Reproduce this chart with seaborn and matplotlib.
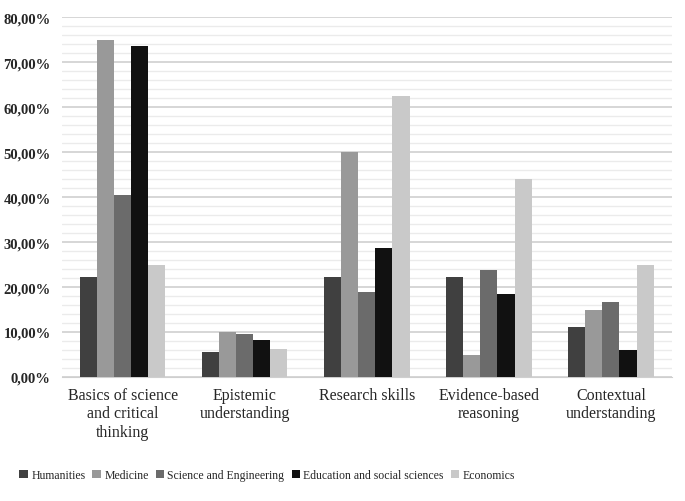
import pandas as pd
import seaborn as sns
import matplotlib.pyplot as plt
from matplotlib.ticker import MultipleLocator, FuncFormatter

categories = ['Basics of science\nand critical\nthinking', 'Epistemic\nunderstanding',
              'Research skills', 'Evidence-based\nreasoning', 'Contextual\nunderstanding']
groups = ['Humanities', 'Medicine', 'Science and Engineering',
          'Education and social sciences', 'Economics']
humanities = [22.2, 5.6, 22.2, 22.2, 11.1]
medicine = [75.0, 10.0, 50.0, 5.0, 15.0]
science = [40.5, 9.5, 19.0, 23.8, 16.7]
education = [73.5, 8.2, 28.6, 18.4, 6.1]
economics = [25.0, 6.3, 62.5, 43.9, 25.0]
colors = ['#404040', '#999999', '#6b6b6b', '#111111', '#c9c9c9']

rows = []
for g, vals in zip(groups, [humanities, medicine, science, education, economics]):
    for c, v in zip(categories, vals):
        rows.append({'category': c, 'group': g, 'value': v / 100})
df = pd.DataFrame(rows)

sns.set_style('white')
plt.rcParams['font.family'] = ['Liberation Serif']

fig = plt.figure(figsize=(6.85, 5.02), dpi=100)
ax = fig.add_axes([0.09, 0.247, 0.891, 0.717])
sns.barplot(data=df, x='category', y='value', hue='group', hue_order=groups,
            palette=colors, width=0.7, saturation=1, linewidth=0, ax=ax, zorder=3)

ax.set_ylim(0, 0.8)
ax.yaxis.set_major_locator(MultipleLocator(0.1))
ax.yaxis.set_minor_locator(MultipleLocator(0.02))
ax.yaxis.set_major_formatter(FuncFormatter(lambda v, p: f'{v*100:.2f}%'.replace('.', ',')))
ax.grid(axis='y', which='major', color='#cfcfcf', lw=1.2, zorder=0)
ax.grid(axis='y', which='minor', color='#ebebeb', lw=1.0, zorder=0)
ax.set_axisbelow(True)
for s in ['top', 'right', 'left']:
    ax.spines[s].set_visible(False)
ax.spines['bottom'].set_color('#cfcfcf')
ax.tick_params(axis='y', which='both', length=0, labelsize=10.5, pad=8)
ax.tick_params(axis='x', length=0, labelsize=11.5, pad=7)
ax.set_xlabel('')
ax.set_ylabel('')
for lbl in ax.get_yticklabels():
    lbl.set_fontweight('bold')

ax.legend_.remove()
handles, labels = ax.get_legend_handles_labels()
fig.legend(handles, labels, loc='center', bbox_to_anchor=(0.39, 0.052), ncol=5,
           frameon=False, fontsize=8.5, handlelength=0.7, handleheight=0.7,
           handletextpad=0.3, columnspacing=0.6)

fig.savefig('out.png', dpi=100)
